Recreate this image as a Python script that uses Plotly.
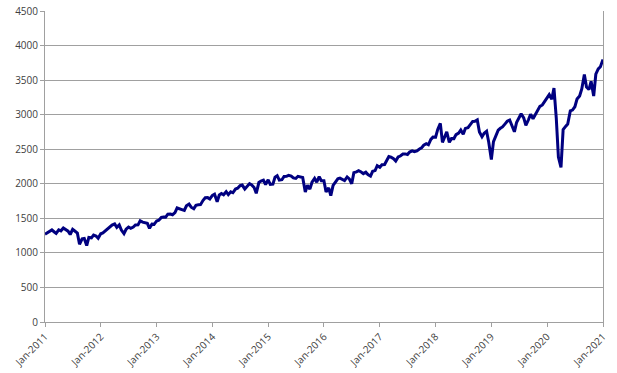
import pandas as pd
import plotly.graph_objects as go

# Semi-monthly index levels (1st and 15th of each month), Jan-2011 .. Jan-2021
values_2011 = [1271, 1293, 1307, 1332, 1306, 1281, 1332, 1319, 1361, 1337, 1314, 1266,
               1340, 1316, 1286, 1125, 1204, 1209, 1105, 1224, 1218, 1257, 1244, 1212]
values_2012 = [1277, 1289, 1324, 1351, 1374, 1402, 1419, 1370, 1405, 1330, 1278, 1342,
               1374, 1356, 1375, 1405, 1406, 1465, 1445, 1440, 1427, 1355, 1416, 1413]
values_2013 = [1462, 1472, 1513, 1520, 1518, 1560, 1562, 1552, 1582, 1650, 1631, 1626,
               1614, 1682, 1706, 1661, 1639, 1688, 1695, 1698, 1761, 1798, 1800, 1781]
values_2014 = [1831, 1848, 1741, 1838, 1859, 1841, 1885, 1842, 1883, 1870, 1924, 1936,
               1973, 1981, 1925, 1955, 2003, 1984, 1946, 1862, 2018, 2039, 2053, 1989]
values_2015 = [2058, 1992, 1995, 2096, 2117, 2053, 2059, 2106, 2108, 2122, 2111, 2084,
               2077, 2108, 2104, 2091, 1880, 1978, 1923, 2023, 2079, 2023, 2102, 2043]
values_2016 = [2044, 1880, 1940, 1829, 1978, 2020, 2072, 2082, 2065, 2047, 2100, 2072,
               2000, 2161, 2173, 2190, 2170, 2147, 2168, 2133, 2111, 2180, 2191, 2262]
values_2017 = [2238, 2275, 2279, 2349, 2395, 2385, 2362, 2329, 2388, 2402, 2430, 2432,
               2423, 2459, 2476, 2464, 2476, 2500, 2519, 2557, 2579, 2564, 2642, 2675]
values_2018 = [2674, 2786, 2873, 2600, 2677, 2750, 2600, 2656, 2654, 2711, 2734, 2779,
               2718, 2801, 2813, 2850, 2902, 2904, 2924, 2750, 2680, 2730, 2760, 2600]
values_2019 = [2351, 2610, 2706, 2775, 2803, 2822, 2867, 2905, 2923, 2850, 2752, 2886,
               2964, 3014, 2953, 2847, 2926, 3007, 2940, 2995, 3066, 3120, 3141, 3191]
values_2020 = [3231, 3289, 3225, 3386, 2954, 2386, 2237, 2783, 2830, 2864, 3055, 3066,
               3115, 3226, 3271, 3372, 3580, 3401, 3363, 3483, 3270, 3585, 3662, 3694]
values_2021 = [3800]

values = (values_2011 + values_2012 + values_2013 + values_2014 + values_2015 +
          values_2016 + values_2017 + values_2018 + values_2019 + values_2020 + values_2021)
dates = pd.date_range("2011-01-01", periods=len(values), freq="SMS")

tick_dates = pd.date_range("2011-01-01", "2021-01-01", freq="YS")

fig = go.Figure()
fig.add_trace(go.Scatter(x=dates, y=values, mode="lines",
                         line=dict(color="#000080", width=3), hoverinfo="skip"))

axis_font = dict(family="Open Sans, DejaVu Sans, sans-serif", size=10, color="#404040")
fig.update_layout(
    width=617, height=373,
    margin=dict(l=45, r=14, t=11, b=51),
    paper_bgcolor="white", plot_bgcolor="white",
    showlegend=False,
    font=axis_font,
    xaxis=dict(range=[tick_dates[0], tick_dates[-1]], tickvals=tick_dates,
               tickformat="%b-%Y", tickangle=-45, showgrid=False,
               showline=True, linecolor="#a0a0a0", linewidth=1,
               ticks="outside", ticklen=4, tickcolor="#a0a0a0",
               tickfont=axis_font, zeroline=False, automargin=False),
    yaxis=dict(range=[0, 4500], dtick=500, showgrid=True, gridcolor="#a0a0a0",
               gridwidth=1, showline=True, linecolor="#a0a0a0", linewidth=1,
               mirror=True, ticks="outside", ticklen=4, tickcolor="#a0a0a0",
               tickfont=axis_font, zeroline=False, automargin=False),
)
fig.write_html("out.html")
